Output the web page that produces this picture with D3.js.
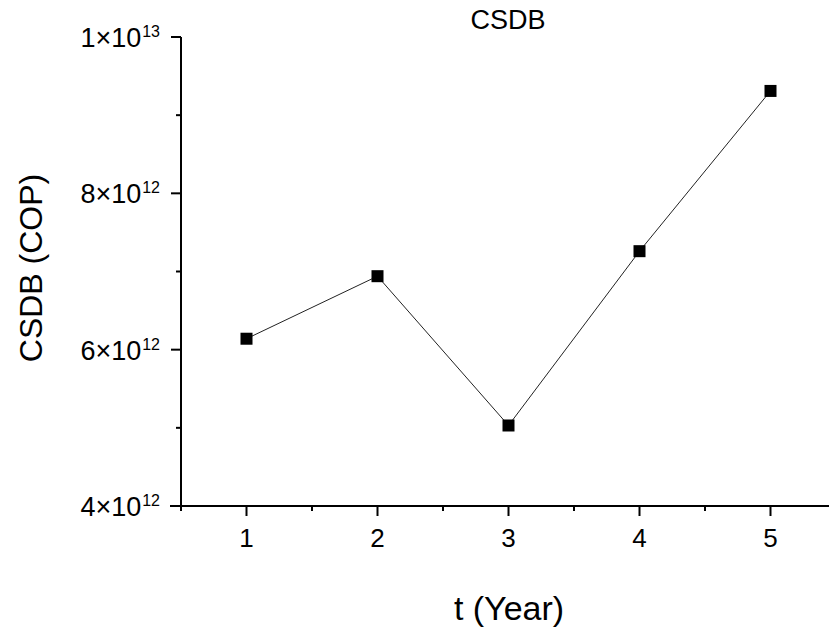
<!DOCTYPE html>
<html>
<head>
<meta charset="utf-8">
<script src="https://cdn.jsdelivr.net/npm/d3@7"></script>
<style>
  body { margin: 0; background: #fff; }
  text { font-family: "Liberation Sans", Arial, sans-serif; fill: #000; }
</style>
</head>
<body>
<div id="chart"></div>
<script>
// Data
const years = [1, 2, 3, 4, 5];
const csdb = [6.14e12, 6.94e12, 5.03e12, 7.26e12, 9.31e12];
const yTicks = [4e12, 6e12, 8e12, 1e13];
const yTickLabels = [["4", "12"], ["6", "12"], ["8", "12"], ["1", "13"]];

const width = 829;
const height = 631;

const svg = d3.select("#chart")
  .append("svg")
  .attr("width", width)
  .attr("height", height);

const x = d3.scaleLinear().domain([0.5, 5.5]).range([181, 836]);
const y = d3.scaleLinear().domain([4e12, 1e13]).range([506, 37]);

// x axis
const xAxis = svg.append("g").attr("transform", "translate(0,506)");
xAxis.append("line")
  .attr("x1", 170).attr("x2", width)
  .attr("stroke", "#000").attr("stroke-width", 2);
const xMinor = [0.5, 1.5, 2.5, 3.5, 4.5];
xAxis.selectAll(".xminor").data(xMinor).join("line")
  .attr("x1", d => x(d)).attr("x2", d => x(d))
  .attr("y1", 0).attr("y2", 5)
  .attr("stroke", "#000").attr("stroke-width", 2);
xAxis.selectAll(".xmajor").data(years).join("line")
  .attr("x1", d => x(d)).attr("x2", d => x(d))
  .attr("y1", 0).attr("y2", 10)
  .attr("stroke", "#000").attr("stroke-width", 2);
xAxis.selectAll("text").data(years).join("text")
  .attr("x", d => x(d)).attr("y", 41)
  .attr("text-anchor", "middle")
  .style("font-size", "26px")
  .text(d => d);

// y axis
const yAxis = svg.append("g").attr("transform", "translate(181,0)");
yAxis.append("line")
  .attr("y1", y(1e13)).attr("y2", 507)
  .attr("stroke", "#000").attr("stroke-width", 2);
const yMinor = [5e12, 7e12, 9e12];
yAxis.selectAll(".yminor").data(yMinor).join("line")
  .attr("x1", -5).attr("x2", 0)
  .attr("y1", d => y(d)).attr("y2", d => y(d))
  .attr("stroke", "#000").attr("stroke-width", 2);
yAxis.selectAll(".ymajor").data(yTicks).join("line")
  .attr("x1", -10).attr("x2", 0)
  .attr("y1", d => y(d)).attr("y2", d => y(d))
  .attr("stroke", "#000").attr("stroke-width", 2);
const yLab = yAxis.selectAll("text").data(yTicks).join("text")
  .attr("x", -21).attr("y", d => y(d) + 10)
  .attr("text-anchor", "end")
  .style("font-size", "27px");
yLab.append("tspan").text((d, i) => yTickLabels[i][0] + "\u00d710");
yLab.append("tspan")
  .attr("dy", -10)
  .attr("dx", 1)
  .style("font-size", "16px")
  .text((d, i) => yTickLabels[i][1]);

// line + markers
const line = d3.line().x((d, i) => x(years[i])).y(d => y(d));
svg.append("path")
  .datum(csdb)
  .attr("d", line)
  .attr("fill", "none")
  .attr("stroke", "#222")
  .attr("stroke-width", 1);
svg.selectAll(".pt").data(csdb).join("rect")
  .attr("x", (d, i) => x(years[i]) - 6)
  .attr("y", d => y(d) - 6)
  .attr("width", 12).attr("height", 12)
  .attr("fill", "#000");

// titles
svg.append("text")
  .attr("x", 508).attr("y", 29)
  .attr("text-anchor", "middle")
  .style("font-size", "27px")
  .text("CSDB");
svg.append("text")
  .attr("x", 509).attr("y", 620)
  .attr("text-anchor", "middle")
  .style("font-size", "34px")
  .text("t (Year)");
svg.append("text")
  .attr("transform", "translate(42,268) rotate(-90)")
  .attr("text-anchor", "middle")
  .style("font-size", "32px")
  .text("CSDB (COP)");
</script>
</body>
</html>
